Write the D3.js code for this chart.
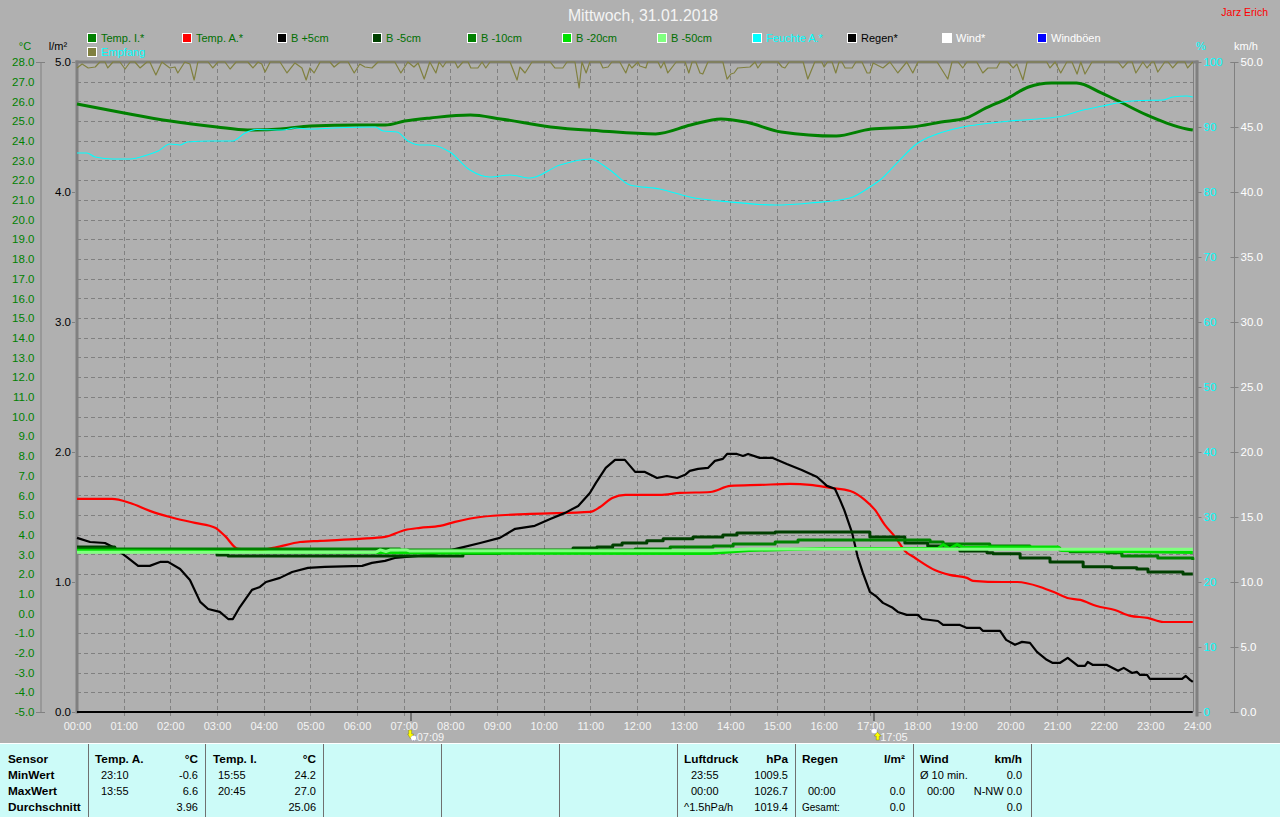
<!DOCTYPE html>
<html><head><meta charset="utf-8">
<script src="https://cdn.jsdelivr.net/npm/d3@7"></script>
<style>
html,body{margin:0;padding:0;background:#b0b0b0;overflow:hidden}
svg{display:block}
text{font-family:"Liberation Sans",Arial,sans-serif;font-size:11px}
</style></head><body><svg id="c" width="1280" height="817"></svg>
<script>
const title="Mittwoch, 31.01.2018", author="Jarz Erich";
const hourLabels=d3.range(0,25).map(h=>String(h).padStart(2,"0")+":00");
const tempTicks=d3.range(-5,29), rainTicks=[0,1,2,3,4,5], humTicks=d3.range(0,101,10), windTicks=d3.range(0,51,5);
const legendNames=["Temp. I.*","Temp. A.*","B +5cm","B -5cm","B -10cm","B -20cm","B -50cm","Feuchte A.*","Regen*","Wind*","Windböen","Empfang"];
const legendColors=["#008000","#ff0000","#000000","#004000","#008000","#00e000","#80ff80","#00ffff","#000000","#ffffff","#0000ff","#808040"];
const legendText=["#006f00","#006f00","#006f00","#006f00","#006f00","#006f00","#006f00","#00ffff","#000000","#ffffff","#ffffff","#00ffff"];

const tempI=[[0,25.87],[1.01,25.41],[2,25],[3,24.7],[3.65,24.55],[4.36,24.6],[5,24.75],[6.03,24.8],[6.61,24.8],[7.02,25],[7.58,25.16],[8.43,25.31],[9.08,25.11],[10.15,24.7],[11.22,24.5],[12.4,24.35],[13.15,24.8],[13.8,25.11],[14.33,24.95],[15.09,24.45],[16.27,24.24],[17.02,24.6],[17.88,24.7],[18.52,24.95],[19.06,25.16],[19.48,25.67],[19.91,26.12],[20.39,26.73],[20.88,26.93],[21.42,26.93],[21.95,26.43],[22.27,26.07],[22.92,25.31],[23.35,24.9],[23.78,24.6],[23.91,24.55]];
const tempA=[[0,5.82],[.75,5.82],[1.14,5.61],[1.56,5.21],[1.99,4.9],[2.53,4.6],[2.96,4.35],[3.17,3.94],[3.45,3.28],[3.92,3.23],[4.24,3.35],[4.78,3.63],[5.21,3.69],[6.06,3.79],[6.6,3.89],[7.03,4.24],[7.35,4.35],[7.78,4.45],[8.1,4.65],[8.64,4.9],[9.71,5.06],[11,5.16],[11.21,5.41],[11.47,5.87],[11.75,6.02],[12.49,6.02],[12.92,6.12],[13.57,6.17],[14,6.48],[14.65,6.53],[15.28,6.58],[15.71,6.53],[16.14,6.38],[16.57,6.22],[16.88,5.77],[17.1,5.26],[17.31,4.5],[17.53,3.89],[17.74,3.18],[17.96,2.82],[18.38,2.21],[18.7,1.96],[19.07,1.81],[19.2,1.66],[19.84,1.6],[20.15,1.6],[20.64,1.35],[20.92,1.1],[21.22,.79],[21.5,.69],[21.85,.38],[22.24,.18],[22.57,-.12],[22.94,-.22],[23.28,-.43],[23.91,-.43]];
const bPlus5=[[0,3.84],[.28,3.63],[.6,3.58],[.81,3.33],[1.09,2.82],[1.31,2.42],[1.56,2.42],[1.78,2.62],[1.95,2.62],[2.21,2.26],[2.42,1.7],[2.64,.59],[2.81,.23],[3.06,.08],[3.24,-.28],[3.34,-.28],[3.49,.33],[3.75,1.2],[3.92,1.35],[4.05,1.6],[4.35,1.81],[4.61,2.11],[4.95,2.32],[5.31,2.37],[6.11,2.42],[6.32,2.57],[6.6,2.67],[6.81,2.82],[7.56,2.97],[8.21,3.33],[8.64,3.58],[9.06,3.84],[9.39,4.3],[9.81,4.45],[10.14,4.8],[10.46,5.11],[10.74,5.46],[10.99,6.12],[11.12,6.63],[11.33,7.39],[11.53,7.8],[11.74,7.8],[11.96,7.19],[12.17,7.19],[12.43,6.88],[12.64,6.98],[12.86,6.88],[13.03,7.04],[13.13,7.24],[13.31,7.34],[13.52,7.39],[13.67,7.75],[13.84,7.85],[13.93,8.1],[14.14,8.1],[14.27,8],[14.38,8.1],[14.63,7.9],[14.91,7.9],[15.21,7.59],[15.53,7.29],[15.86,6.93],[16.07,6.48],[16.24,6.33],[16.35,5.77],[16.44,5.26],[16.61,4.09],[16.73,2.87],[16.84,2.06],[16.99,1.1],[17.14,.84],[17.27,.54],[17.48,.29],[17.59,.08],[17.78,-.07],[18.02,-.07],[18.11,-.28],[18.45,-.38],[18.56,-.58],[18.92,-.58],[19.07,-.73],[19.35,-.73],[19.41,-.88],[19.78,-.88],[19.91,-1.34],[20.1,-1.59],[20.25,-1.44],[20.42,-1.49],[20.57,-1.95],[20.78,-2.35],[20.91,-2.51],[21.06,-2.51],[21.23,-2.25],[21.45,-2.66],[21.6,-2.66],[21.66,-2.46],[21.77,-2.61],[22.07,-2.61],[22.31,-2.91],[22.43,-2.76],[22.61,-3.02],[22.71,-2.96],[22.78,-3.12],[22.93,-3.12],[22.99,-3.32],[23.68,-3.32],[23.76,-3.17],[23.85,-3.37],[23.91,-3.47]];
const bMinus5=[[0,3.38],[.81,3.23],[2.96,3.23],[3,2.97],[3.24,2.92],[8.27,3.05],[9.06,3.08],[9.71,3.13],[10.63,3.33],[11.14,3.38],[11.48,3.48],[11.68,3.58],[12.21,3.69],[12.56,3.79],[13.2,3.89],[13.84,3.99],[14.14,4.09],[14.96,4.14],[16.84,4.14],[16.99,3.89],[17.27,3.89],[17.74,3.58],[18.06,3.58],[18.23,3.43],[18.92,3.18],[19.5,3.08],[19.63,3.03],[20.21,2.82],[20.63,2.82],[20.85,2.62],[21.28,2.62],[21.56,2.37],[22.09,2.37],[22.18,2.32],[22.71,2.26],[22.95,2.11],[23.59,2.11],[23.7,2.01],[23.91,2.01]];
const bMinus10=[[0,3.28],[6.92,3.23],[11.96,3.28],[12.71,3.38],[13.63,3.43],[14.06,3.53],[14.96,3.63],[15.45,3.73],[16.35,3.73],[18.06,3.73],[18.28,3.63],[18.56,3.53],[19.28,3.53],[19.56,3.43],[20.42,3.33],[21.06,3.23],[21.28,3.13],[22.07,3.08],[22.39,2.92],[23.14,2.92],[23.16,2.82],[23.85,2.82],[23.91,2.72]];
const bMinus20=[[0,3.2],[7.78,3.07],[13.56,3.05],[14.4,3.2],[15.98,3.3],[17,3.3],[18.45,3.3],[18.56,3.5],[18.7,3.3],[18.86,3.5],[19,3.35],[19.5,3.38],[21.02,3.38],[21.1,3.2],[23.91,3.1]];
const bMinus50=[[0,3.11],[6.4,3.11],[6.5,3.23],[6.62,3.15],[6.72,3.23],[7.05,3.23],[7.12,3.18],[13.56,3.19],[14.4,3.28],[23.91,3.26]];
const humidity=[[0,86],[.21,86],[.39,85.38],[.77,85.08],[1.14,85.08],[1.5,85.69],[1.74,86.31],[1.99,87.38],[2.21,87.23],[2.36,87.69],[2.85,87.85],[3.34,87.85],[3.6,89.08],[3.86,89.62],[4.41,89.54],[4.67,89.85],[4.99,89.69],[5.49,89.85],[6.39,90],[6.56,89.38],[6.86,89.23],[7.09,87.85],[7.35,87.23],[7.56,87.23],[7.99,86.15],[8.42,83.38],[8.85,82.31],[9.28,82.62],[9.71,82.15],[10.35,84.15],[10.99,85.08],[11.42,83.38],[11.85,81.08],[12.49,80.46],[13.13,79.23],[13.99,78.46],[14.96,78],[15.71,78.31],[16.56,79.08],[16.99,80.77],[17.21,81.85],[17.63,84.92],[17.99,87.38],[18.43,88.92],[18.98,90],[19.41,90.46],[19.99,90.92],[20.57,91.23],[21.13,91.69],[21.56,92.62],[21.98,93.23],[22.28,93.69],[22.78,94.08],[23.27,94.15],[23.48,94.62],[23.78,94.77],[23.91,94.62]];
const reception=[[0,99.08],[.11,99.69],[.24,99.08],[.39,99.23],[.49,100],[.6,100],[.66,99.08],[.77,100],[.92,100],[1.03,98.92],[1.14,100],[1.24,100],[1.35,99.08],[1.5,100],[1.56,100],[1.69,98],[1.82,100],[1.99,99.08],[2.1,99.23],[2.16,98.31],[2.31,100],[2.42,99.69],[2.51,97.23],[2.59,100],[2.81,100],[2.91,99.08],[3.02,100],[3.17,100],[3.28,98.92],[3.41,100],[3.66,100],[3.77,99.08],[3.88,100],[3.96,99.69],[4.03,98.46],[4.14,100],[4.35,100],[4.5,98.31],[4.67,99.85],[4.82,99.08],[4.91,97.23],[4.99,99.08],[5.08,98.31],[5.21,100],[5.42,100],[5.51,99.23],[5.64,100],[5.81,100],[5.94,98.31],[6.06,99.69],[6.17,99.23],[6.32,99.08],[6.45,100],[6.81,100],[6.94,98.31],[7.09,100],[7.22,99.23],[7.31,99.85],[7.44,97.38],[7.56,100],[7.69,98.31],[7.76,100],[7.84,99.23],[7.91,100],[8.1,100],[8.16,99.08],[8.27,100],[8.38,100],[8.44,99.08],[8.59,99.08],[8.68,100],[8.76,99.08],[8.85,100],[9.28,100],[9.43,97.23],[9.49,99.23],[9.6,98.31],[9.75,100],[10.14,100],[10.24,99.08],[10.41,99.08],[10.5,100],[10.67,100],[10.76,96],[10.82,100],[10.91,98.31],[10.99,100],[11.21,100],[11.27,99.08],[11.38,99.23],[11.46,100],[11.63,100],[11.76,98.31],[11.83,99.7],[11.89,99.08],[12.02,100],[12.06,99.38],[12.19,99.08],[12.23,100],[12.45,100],[12.51,99.08],[12.58,100],[12.66,98.31],[12.84,100],[13.03,100],[13.11,98.31],[13.18,100],[13.26,100],[13.35,98.31],[13.41,98.15],[13.52,100],[13.84,100],[13.93,97.38],[14.01,98.15],[14.08,98.31],[14.16,99.08],[14.42,99.23],[14.53,100],[14.59,99.08],[14.68,100],[15.02,100],[15.11,99.23],[15.17,99.08],[15.26,100],[15.56,100],[15.66,97.38],[15.81,100],[15.96,100],[16.01,99.23],[16.08,100],[16.18,100],[16.26,98.31],[16.33,100],[16.39,100],[16.46,99.08],[16.61,99.08],[16.69,100],[16.82,100],[16.93,98.31],[16.99,98.31],[17.06,99.85],[17.27,99.08],[17.42,100],[17.59,98.31],[17.78,100],[17.91,98.31],[18.02,100],[18.43,100],[18.66,97.38],[18.75,100],[18.88,100],[18.98,99.08],[19.07,100],[19.28,100],[19.41,98.31],[19.52,99.08],[19.71,99.08],[19.78,100],[19.95,100],[20.06,99.08],[20.14,99.69],[20.27,97.23],[20.36,100],[20.78,100],[20.85,99.08],[20.96,100],[21.08,98.31],[21.21,100],[21.32,100],[21.43,98.15],[21.51,100],[21.6,98.15],[21.75,100],[22.31,100],[22.41,99.08],[22.52,100],[22.61,100],[22.69,98.31],[22.84,100],[22.93,99.08],[23.03,100],[23.08,100],[23.16,98.46],[23.31,100],[23.38,100],[23.48,99.08],[23.59,100],[23.74,100],[23.8,99.08],[23.91,100]];
const rain=[[0,0],[23.91,0]], wind=[[0,0],[23.91,0]], gusts=[[0,0],[23.91,0]];
const sunEvents=[{hour:7.15,label:"07:09",up:false},{hour:17.083,label:"17:05",up:true}];
const footerRows=[
 ["Sensor",8,759,"b","s"],["MinWert",8,775,"b","s"],["MaxWert",8,791,"b","s"],["Durchschnitt",8,807,"b","s"],
 ["Temp. A.",95,759,"b","s"],["°C",198,759,"b","e"],["23:10",101,775,"","s"],["-0.6",198,775,"","e"],["13:55",101,791,"","s"],["6.6",198,791,"","e"],["3.96",198,807,"","e"],
 ["Temp. I.",213,759,"b","s"],["°C",316,759,"b","e"],["15:55",218,775,"","s"],["24.2",316,775,"","e"],["20:45",218,791,"","s"],["27.0",316,791,"","e"],["25.06",316,807,"","e"],
 ["Luftdruck",684,759,"b","s"],["hPa",788,759,"b","e"],["23:55",691,775,"","s"],["1009.5",788,775,"","e"],["00:00",691,791,"","s"],["1026.7",788,791,"","e"],["^1.5hPa/h",684,807,"","s"],["1019.4",788,807,"","e"],
 ["Regen",802,759,"b","s"],["l/m²",905,759,"b","e"],["00:00",808,791,"","s"],["0.0",905,791,"","e"],["Gesamt:",802,807,"g","s"],["0.0",905,807,"","e"],
 ["Wind",920,759,"b","s"],["km/h",1022,759,"b","e"],["Ø 10 min.",920,775,"","s"],["0.0",1022,775,"","e"],["00:00",927,791,"","s"],["N-NW 0.0",1022,791,"","e"],["0.0",1022,807,"","e"]
];
const footerSeps=[88,205,323,441,559,677,795,913,1031];

const svg=d3.select("#c");
const T=62,B=712,L=77,R=1197;
const x=d3.scaleLinear().domain([0,24]).range([L,R]);
const yT=d3.scaleLinear().domain([-5,28]).range([B,T]);
const yR=d3.scaleLinear().domain([0,5]).range([B,T]);
const yH=d3.scaleLinear().domain([0,100]).range([B,T]);
const yW=d3.scaleLinear().domain([0,50]).range([B,T]);
const GR="#808080";

svg.append("rect").attr("width",1280).attr("height",817).attr("fill","#b0b0b0");
svg.append("text").attr("x",643).attr("y",21).attr("text-anchor","middle").attr("fill","#f4f4f4").style("font-size","15.8px").text(title);
svg.append("text").attr("x",1268).attr("y",16).attr("text-anchor","end").attr("fill","#ff0000").style("font-size","10.5px").text(author);
legendNames.forEach((n,i)=>{
  const row=i===11?1:0, col=i===11?0:i;
  const gx=87+95*col, gy=33+14*row;
  svg.append("rect").attr("x",gx+.5).attr("y",gy+.5).attr("width",9).attr("height",9).attr("fill",legendColors[i]).attr("stroke","#fff");
  svg.append("text").attr("x",gx+14).attr("y",gy+9).attr("fill",legendText[i]).text(n);
});
const grid=svg.append("g").attr("stroke",GR).attr("stroke-dasharray","4 3").attr("shape-rendering","crispEdges");
grid.selectAll(".h").data(tempTicks.filter(t=>t!==28)).join("line").attr("x1",L).attr("x2",1193).attr("y1",d=>Math.round(yT(d))+.5).attr("y2",d=>Math.round(yT(d))+.5);
grid.selectAll(".v").data(d3.range(1,24)).join("line").attr("y1",T).attr("y2",B+4).attr("x1",d=>Math.round(x(d))+.5).attr("x2",d=>Math.round(x(d))+.5);
function styleAxis(g,col,tickCol){g.select(".domain").attr("stroke",tickCol||GR);g.selectAll(".tick line").attr("stroke",tickCol||GR);g.selectAll("text").attr("fill",col).style("font-size","11.5px").style("font-family",'"Liberation Sans",Arial,sans-serif');}
const aT=svg.append("g").attr("transform","translate(40.5,0)").call(d3.axisLeft(yT).tickValues(tempTicks).tickSize(0).tickPadding(6).tickFormat(d3.format(".1f")));
styleAxis(aT,"#008000");
aT.selectAll(".tick text").text(d=>d.toFixed(1));
[28,-5].forEach(v=>svg.append("line").attr("x1",36).attr("x2",45).attr("y1",yT(v)+.5).attr("y2",yT(v)+.5).attr("stroke",GR));
const aR=svg.append("g").attr("transform","translate(75,0)").call(d3.axisLeft(yR).tickValues(rainTicks).tickSize(3).tickPadding(1).tickFormat(d3.format(".1f")));
aR.select(".domain").remove(); styleAxis(aR,"#000000");
const aH=svg.append("g").attr("transform","translate(1197.5,0)").call(d3.axisRight(yH).tickValues(humTicks).tickSize(4).tickPadding(2));
aH.select(".domain").remove(); styleAxis(aH,"#00ffff");
const aW=svg.append("g").attr("transform","translate(1234.5,0)").call(d3.axisRight(yW).tickValues(windTicks).tickSize(4).tickPadding(2).tickFormat(d3.format(".1f")));
styleAxis(aW,"#ffffff");
aW.select(".domain").attr("d",`M-4,${T+.5}H0V${B+.5}H-4`);
aW.selectAll(".tick line").attr("x1",-4).attr("x2",4);
const aX=svg.append("g").attr("transform",`translate(0,${B})`).call(d3.axisBottom(x).tickValues(d3.range(0,25)).tickSize(0).tickPadding(10).tickFormat(h=>hourLabels[h]));
aX.select(".domain").remove(); styleAxis(aX,"#f4f4f4");
aX.selectAll("text").style("font-size","11px");
[["°C",25,50,"#008000"],["l/m²",58,50,"#000000"],["%",1201,50,"#00ffff"],["km/h",1246,50,"#ffffff"]].forEach(u=>
  svg.append("text").attr("x",u[1]).attr("y",u[2]).attr("fill",u[3]).attr("text-anchor","middle").text(u[0]));
svg.append("rect").attr("x",L-1.5).attr("y",T-1.5).attr("width",3).attr("height",B-T+3).attr("fill",GR);
svg.append("rect").attr("x",L-1.5).attr("y",T-1.5).attr("width",R-L+3).attr("height",3).attr("fill",GR);
svg.append("rect").attr("x",R-1.5).attr("y",T-1.5).attr("width",3).attr("height",B-T+6).attr("fill",GR);
svg.append("line").attr("x1",1193.5).attr("x2",1193.5).attr("y1",T).attr("y2",B).attr("stroke",GR);
const path=(data,ys,color,w,curve)=>svg.append("path").datum(data).attr("fill","none").attr("stroke",color).attr("stroke-width",w).attr("stroke-linejoin","round")
  .attr("d",d3.line().curve(curve||d3.curveLinear).x(d=>x(d[0])).y(d=>ys(d[1])));
const smooth=d3.curveMonotoneX, step=d3.curveStepAfter;
path(tempI,yT,"#008000",3,smooth);
path(tempA,yT,"#ff0000",2.2,smooth);
path(bPlus5,yT,"#000000",2.2);
path(bMinus5,yT,"#004000",3,step);
path(bMinus10,yT,"#008000",3,step);
path(bMinus20,yT,"#00e000",3);
path(bMinus50,yT,"#80ff80",3);
path(humidity,yH,"#00ffff",1.1,smooth);
path(gusts,yW,"#0000ff",2);
path(wind,yW,"#ffffff",2);
path(rain,yR,"#000000",2);
path(reception,yH,"#808040",1.2);
sunEvents.forEach(e=>{
  const px=x(e.hour);
  svg.append("rect").attr("x",Math.round(px)-1).attr("y",B+1).attr("width",2).attr("height",8).attr("fill","#707070");
  const ax=px+(e.up?3:0), g=svg.append("g").attr("transform",`translate(${ax},734)`);
  g.append("path").attr("d",e.up?"M0,-2 L-3,2 L-1,2 L-1,6 L2,6 L2,2 L4,2 Z":"M-2,-4 L1,-4 L1,0 L3,0 L0,5 L-3,0 L-2,0 Z").attr("fill","#ffff00").attr("stroke","#707000").attr("stroke-width",.4);
  g.append("ellipse").attr("cx",e.up?-3:3).attr("cy",e.up?-3:4).attr("rx",3).attr("ry",2.6).attr("fill","#ffffff").attr("stroke","#4040a0").attr("stroke-width",.4).attr("stroke-dasharray","1 1");
  svg.append("text").attr("x",px+6).attr("y",741).attr("fill","#f4f4f4").style("font-size","11px").text(e.label);
});
svg.append("rect").attr("x",0).attr("y",743).attr("width",1280).attr("height",1).attr("fill","#ffffff");
svg.append("rect").attr("x",0).attr("y",744).attr("width",1280).attr("height",73).attr("fill","#ccfbf8");
svg.selectAll(".sep").data(footerSeps).join("rect").attr("x",d=>d).attr("y",744).attr("width",1).attr("height",73).attr("fill","#707070");
svg.selectAll(".ft").data(footerRows).join("text")
  .attr("x",d=>d[1]).attr("y",d=>d[2]+4).attr("fill","#000")
  .attr("text-anchor",d=>d[4]==="e"?"end":"start")
  .style("font-weight",d=>d[3]==="b"?"700":"400")
  .style("font-size",d=>d[3]==="g"?"10px":d[3]==="b"?"11.8px":"11px")
  .text(d=>d[0]);
</script></body></html>
